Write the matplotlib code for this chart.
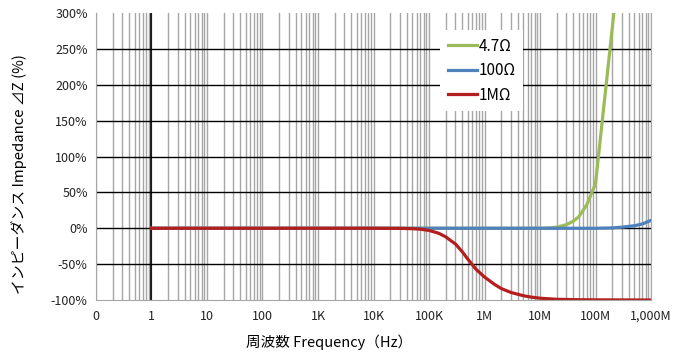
import matplotlib
matplotlib.use('Agg')
import matplotlib.pyplot as plt
from matplotlib.ticker import FixedLocator, LogLocator, NullFormatter

plt.rcParams['font.family'] = ['Noto Sans CJK JP', 'DejaVu Sans']

# data
freq_r = [1, 10, 100, 1e3, 1e4, 3e4, 5e4, 7e4, 1e5, 1.5e5, 2e5, 3e5, 4e5, 5e5, 7e5,
          1e6, 1.5e6, 2e6, 3e6, 5e6, 7e6, 1e7, 2e7, 5e7, 1e8, 1e9]
val_1m = [0, 0, 0, 0, 0, -0.2, -0.6, -1.3, -3, -7, -12, -22, -33, -43, -57,
          -68, -78, -84, -89.5, -94, -96, -97.5, -99, -99.6, -99.8, -100]

freq_g = [1, 10, 100, 1e3, 1e4, 1e5, 1e6, 1e7, 1.5e7, 2e7, 3e7, 4e7, 5e7, 7e7, 1e8, 3e8]
val_47 = [0, 0, 0, 0, 0, 0, 0, 0, 0.5, 1.5, 5, 10, 16, 33, 62, 405]

freq_b = [1, 10, 100, 1e3, 1e4, 1e5, 1e6, 1e7, 1e8, 2e8, 3e8, 5e8, 7e8, 1e9]
val_100 = [0, 0, 0, 0, 0, 0, 0, 0, 0, 0.5, 1.5, 3.5, 6, 11]

x_ticks = [0.1, 1, 10, 100, 1e3, 1e4, 1e5, 1e6, 1e7, 1e8, 1e9]
x_labels = ['0', '1', '10', '100', '1K', '10K', '100K', '1M', '10M', '100M', '1,000M']
y_ticks = [-100, -50, 0, 50, 100, 150, 200, 250, 300]

fig = plt.figure(figsize=(6.77, 3.55), dpi=100)
ax = fig.add_axes([0.1418, 0.1549, 0.8198, 0.8085])

ax.set_xscale('log')
ax.set_xlim(0.1, 1e9)
ax.set_ylim(-100, 300)

ax.plot(freq_g, val_47, color='#9BBB59', lw=2.3, label='4.7Ω', solid_joinstyle='round')
ax.plot(freq_b, val_100, color='#4F81BD', lw=2.3, label='100Ω', solid_joinstyle='round')
ax.plot(freq_r, val_1m, color='#B41E1E', lw=2.3, label='1MΩ', solid_joinstyle='round')

ax.xaxis.set_major_locator(FixedLocator(x_ticks))
ax.xaxis.set_minor_locator(LogLocator(base=10, subs=range(2, 10), numticks=20))
ax.xaxis.set_minor_formatter(NullFormatter())
ax.set_xticklabels(x_labels)
ax.set_yticks(y_ticks)
ax.set_yticklabels([f'{v}%' for v in y_ticks])

ax.grid(axis='x', which='both', color='#A6A6A6', lw=1)
ax.grid(axis='y', which='major', color='black', lw=1)
ax.get_ygridlines()[0].set_visible(False)
ax.get_ygridlines()[-1].set_visible(False)
ax.axvline(1, color='black', lw=1.2, zorder=1)
ax.set_axisbelow(True)

ax.tick_params(axis='both', which='both', length=0, labelsize=9, colors='#222222')
ax.tick_params(axis='x', pad=7)
ax.tick_params(axis='y', pad=6)
for s in ['left', 'bottom', 'right']:
    ax.spines[s].set_color('#A6A6A6')
ax.spines['top'].set_visible(False)

ax.set_xlabel('周波数 Frequency（Hz）', fontsize=10.5)
ax.xaxis.set_label_coords(0.42, -0.12)
ax.set_ylabel('インピーダンス Impedance ⊿Z (%)', fontsize=10.7)
ax.yaxis.set_label_coords(-0.125, 0.44)

leg = ax.legend(loc='upper left', bbox_to_anchor=(0.62, 0.941), fontsize=11,
                frameon=True, fancybox=False, handlelength=1.9, handletextpad=0.1,
                labelspacing=0.5, borderpad=0.5, borderaxespad=0)
leg.get_frame().set_edgecolor('none')
leg.get_frame().set_facecolor('white')
leg.get_frame().set_alpha(1)

fig.savefig('out.png', dpi=100)
